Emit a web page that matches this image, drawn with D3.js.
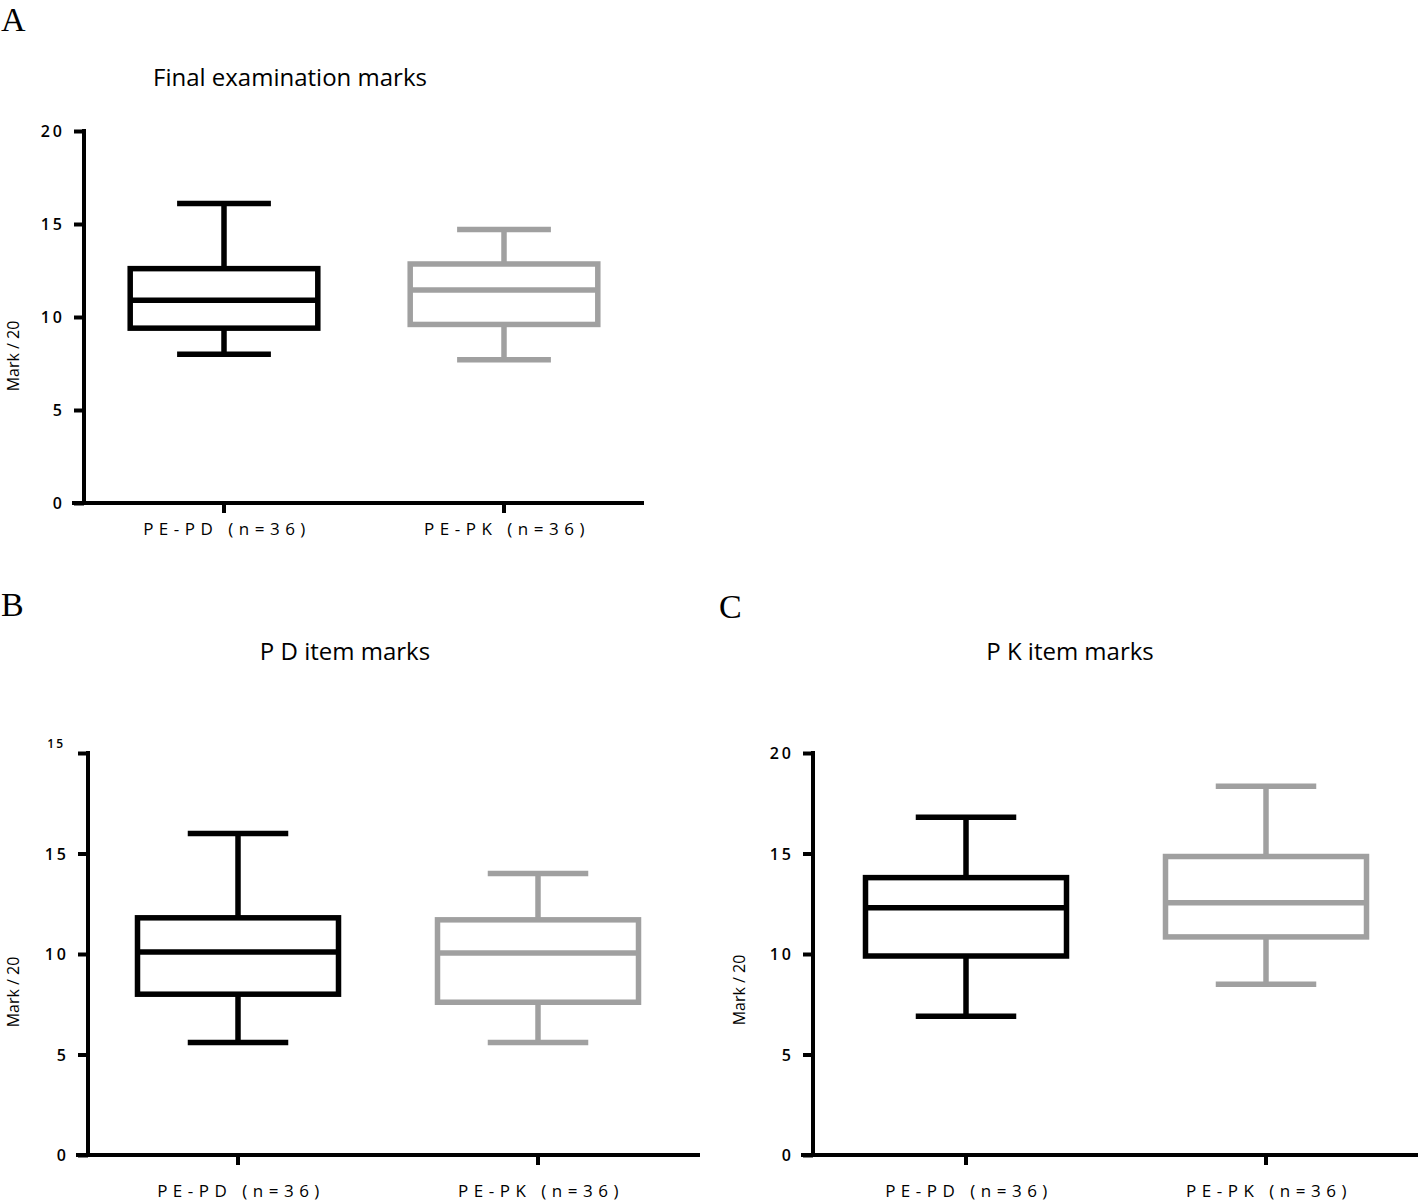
<!DOCTYPE html>
<html>
<head>
<meta charset="utf-8">
<script src="https://cdn.jsdelivr.net/npm/d3@7"></script>
<style>
  html, body { margin: 0; padding: 0; background: #fff; }
  svg { display: block; }
</style>
</head>
<body>
<svg id="chart" width="1418" height="1201"></svg>
<script>
// ---------------- DATA ----------------
const categories = ["PE-PD (n=36)", "PE-PK (n=36)"];
// box stats: [min, q1, median, q3, max]
const finalPD  = [8.0, 9.4, 10.9, 12.6, 16.1];
const finalPK  = [7.7, 9.6, 11.45, 12.85, 14.7];
const pdItemPD = [5.6, 8.0, 10.1, 11.8, 16.0];
const pdItemPK = [5.6, 7.6, 10.05, 11.7, 14.0];
const pkItemPD = [6.9, 9.9, 12.3, 13.8, 16.8];
const pkItemPK = [8.5, 10.85, 12.55, 14.85, 18.35];
const tickValues = [0, 5, 10, 15, 20];
const tickLabelsA = ["0", "5", "10", "15", "20"];
const tickLabelsB = ["0", "5", "10", "15", "15"];
const tickLabelsC = ["0", "5", "10", "15", "20"];
const titles = ["Final examination marks", "P D item marks", "P K item marks"];
const panelLetters = ["A", "B", "C"];
const yTitle = "Mark / 20";
const seriesColors = ["#000000", "#a0a0a0"];

// ---------------- DRAW ----------------
const svg = d3.select("#chart");
const sans = "'Open Sans', 'Noto Sans', sans-serif";

const panels = [
  { letter: panelLetters[0], lx: 0, ly: 31, title: titles[0], tx: 290, ty: 86,
    ax0: 84, ax1: 644, band: [84, 644], y0: 503, y1: 131,
    ticks: tickLabelsA, data: [finalPD, finalPK], ytx: 19, yty: 356, labY: 535 },
  { letter: panelLetters[1], lx: 0, ly: 616, title: titles[1], tx: 345, ty: 660,
    ax0: 88, ax1: 700, band: [88, 688], y0: 1155, y1: 753,
    ticks: tickLabelsB, data: [pdItemPD, pdItemPK], ytx: 19, yty: 992, labY: 1197 },
  { letter: panelLetters[2], lx: 718, ly: 618, title: titles[2], tx: 1070, ty: 660,
    ax0: 813, ax1: 1418, band: [816, 1416], y0: 1155, y1: 753,
    ticks: tickLabelsC, data: [pkItemPD, pkItemPK], ytx: 745, yty: 990, labY: 1197 }
];

panels.forEach((p, pi) => {
  const g = svg.append("g");

  // panel letter
  g.append("text")
    .attr("x", p.lx + 1).attr("y", p.ly)
    .attr("font-family", "'Liberation Serif', 'DejaVu Serif', serif")
    .attr("font-size", 34).attr("fill", "#000")
    .text(p.letter);

  // title
  g.append("text")
    .attr("x", p.tx).attr("y", p.ty)
    .attr("text-anchor", "middle")
    .attr("font-family", sans).attr("font-size", 24)
    .attr("fill", "#000")
    .text(p.title);

  const y = d3.scaleLinear().domain([0, 20]).range([p.y0, p.y1]);
  const x = d3.scaleBand().domain(categories).range(p.band).padding(0);

  // y axis
  const yAxis = d3.axisLeft(y)
    .tickValues(tickValues)
    .tickFormat((d, i) => p.ticks[i])
    .tickSize(10).tickSizeOuter(0).tickPadding(9);
  const yg = g.append("g").attr("transform", `translate(${p.ax0},0)`).call(yAxis);
  yg.select(".domain").attr("stroke", "#000").attr("stroke-width", 4)
    .attr("d", `M0,${p.y0 + 2}V${p.y1 - 2}`);
  yg.selectAll(".tick line").attr("stroke", "#000").attr("stroke-width", 4);
  yg.selectAll(".tick text")
    .attr("font-family", sans).attr("font-size", 16).attr("font-weight", 600)
    .attr("letter-spacing", 3).attr("fill", "#000")
    .attr("dy", "0.35em");
  if (pi === 1) {
    // the top label in panel B is smaller and sits above the tick
    yg.selectAll(".tick").filter(d => d === 20).select("text")
      .attr("font-size", 12).attr("x", -23).attr("dy", "-0.5em").attr("letter-spacing", 2);
  }

  // x axis
  const xAxis = d3.axisBottom(x).tickSize(10).tickSizeOuter(0).tickPadding(12);
  const xg = g.append("g").attr("transform", `translate(0,${p.y0})`).call(xAxis);
  xg.select(".domain").attr("stroke", "#000").attr("stroke-width", 4)
    .attr("d", `M${p.ax0 - 12},0H${p.ax1}`);
  xg.selectAll(".tick line").attr("stroke", "#000").attr("stroke-width", 4);
  xg.selectAll(".tick text").remove();
  g.selectAll(".xlab").data(categories).enter().append("text")
    .attr("x", d => x(d) + x.bandwidth() / 2 + 3)
    .attr("y", p.labY)
    .attr("text-anchor", "middle")
    .attr("font-family", sans).attr("font-size", 17).attr("font-weight", 500)
    .attr("letter-spacing", 5.5).attr("fill", "#000")
    .text(d => d);

  // y title
  g.append("text")
    .attr("transform", `translate(${p.ytx},${p.yty}) rotate(-90)`)
    .attr("text-anchor", "middle")
    .attr("font-family", sans).attr("font-size", 16).attr("font-weight", 500)
    .attr("fill", "#000")
    .text(yTitle);

  // boxes
  const boxW = x.bandwidth() * 0.67;
  const capW = boxW * 0.5;
  p.data.forEach((s, si) => {
    const cat = categories[si];
    const cx = x(cat) + x.bandwidth() / 2;
    const col = seriesColors[si];
    const [mn, q1, md, q3, mx] = s;
    const bg = g.append("g").attr("stroke", col).attr("stroke-width", 5.5).attr("fill", "none");
    bg.append("line").attr("x1", cx).attr("x2", cx).attr("y1", y(q3)).attr("y2", y(mx));
    bg.append("line").attr("x1", cx).attr("x2", cx).attr("y1", y(q1)).attr("y2", y(mn));
    bg.append("line").attr("x1", cx - capW / 2).attr("x2", cx + capW / 2).attr("y1", y(mx)).attr("y2", y(mx));
    bg.append("line").attr("x1", cx - capW / 2).attr("x2", cx + capW / 2).attr("y1", y(mn)).attr("y2", y(mn));
    bg.append("rect").attr("x", cx - boxW / 2).attr("width", boxW)
      .attr("y", y(q3)).attr("height", y(q1) - y(q3)).attr("fill", "#fff");
    bg.append("line").attr("x1", cx - boxW / 2).attr("x2", cx + boxW / 2).attr("y1", y(md)).attr("y2", y(md));
  });
});
</script>
</body>
</html>
